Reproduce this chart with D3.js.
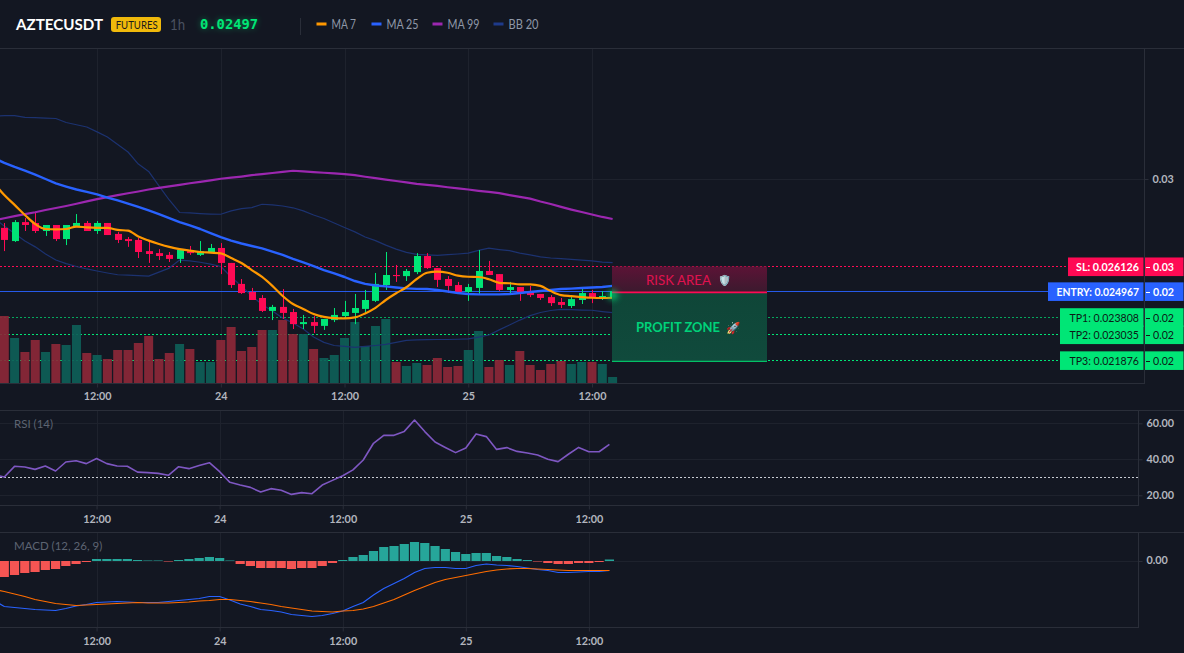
<!DOCTYPE html>
<html><head><meta charset="utf-8">
<style>
html,body{margin:0;padding:0;background:#131722;overflow:hidden}
svg{display:block}
text{font-family:"Lato","Noto Sans",sans-serif}
.axis path{display:none}
.axis line{stroke:#2a2e39}
.axis text{fill:#b2b5be;font-size:12px;font-weight:700;font-family:"Lato",sans-serif}
</style>
<script src="https://cdn.jsdelivr.net/npm/d3@7"></script>
</head><body><svg id="c" width="1184" height="653"></svg>
<script>
const symbol="AZTECUSDT", badge="FUTURES", interval="1h", lastPrice="0.02497";
const legendNames=["MA 7","MA 25","MA 99","BB 20"];
const legendColors=["#ff9800","#2962ff","#9c27b0","#1e3a8a"];
const tickBars=[9,21,33,45,57];
const tickLabels=["12:00","24","12:00","25","12:00"];
const levelNames=["SL","ENTRY","TP1","TP2","TP3"];
const levelPrices=[0.026126,0.024967,0.023808,0.023035,0.021876];

const opens=[.02781,.02722,.02807,.02803,.02767,.02794,.02731,.02785,.02803,.02767,
.02803,.02754,.02731,.02727,.02677,.02668,.02660,.02642,.02677,.02660,
.02673,.02691,.02624,.02530,.02494,.02467,.02409,.02427,.02404,.02350,
.02359,.02342,.02368,.02386,.02400,.02418,.02454,.02525,.02570,.02565,
.02583,.02655,.02601,.02552,.02525,.02494,.02512,.02588,.02574,.02503,
.02516,.02494,.02485,.02471,.02449,.02431,.02458,.02489,.02471,.02467];
const highs=[.02803,.02816,.02825,.02848,.02794,.02794,.02794,.02843,.02812,.02812,
.02803,.02763,.02740,.02736,.02727,.02686,.02673,.02682,.02700,.02722,
.02709,.02713,.02624,.02552,.02512,.02480,.02436,.02507,.02418,.02391,
.02386,.02373,.02422,.02454,.02485,.02503,.02579,.02673,.02615,.02597,
.02668,.02668,.02601,.02565,.02539,.02530,.02682,.02633,.02574,.02539,
.02516,.02521,.02485,.02480,.02467,.02480,.02507,.02503,.02498,.02498];
const lows=[.02677,.02718,.02767,.02758,.02745,.02722,.02704,.02785,.02767,.02754,
.02749,.02713,.02696,.02646,.02624,.02637,.02628,.02624,.02660,.02655,
.02668,.02574,.02512,.02485,.02458,.02404,.02368,.02373,.02328,.02328,
.02310,.02324,.02359,.02373,.02350,.02400,.02449,.02503,.02539,.02543,
.02574,.02597,.02516,.02489,.02494,.02454,.02485,.02570,.02498,.02485,
.02454,.02471,.02458,.02431,.02422,.02422,.02440,.02444,.02458,.02467];
const closes=[.02727,.02807,.02794,.02767,.02794,.02731,.02794,.02803,.02767,.02803,
.02749,.02727,.02722,.02673,.02664,.02655,.02642,.02682,.02668,.02677,
.02691,.02624,.02525,.02489,.02458,.02409,.02427,.02400,.02350,.02359,
.02342,.02373,.02391,.02404,.02422,.02458,.02530,.02570,.02565,.02588,
.02655,.02601,.02548,.02521,.02494,.02516,.02588,.02570,.02503,.02516,
.02494,.02480,.02467,.02444,.02436,.02462,.02489,.02471,.02476,.02497];
const volumes=[67,45,31,43,31,39,38,58,30,28,24,33,33,40,47,24,30,39,34,21,21,43,56,32,36,53,53,63,49,49,34,25,28,45,61,37,57,64,21,17,20,18,25,16,17,33,52,16,23,18,32,18,13,19,22,19,21,21,19,6];

// line series start one bar before the first candle (bar -1)
const ma7=[.02982,.02928,.02884,.02839,.02798,.02776,.02774,.02776,.02787,.02783,.02781,.02781,.02772,.02769,.02742,.02724,.02709,.02696,.02686,.02679,.02673,.02670,.02667,.02646,.02624,.02592,.02561,.02521,.02476,.02440,.02418,.02395,.02382,.02377,.02376,.02380,.02398,.02423,.02458,.02488,.02515,.02552,.02580,.02585,.02580,.02567,.02562,.02561,.02551,.02535,.02533,.02528,.02528,.02521,.02498,.02480,.02475,.02471,.02468,.02467,.02468];
const ma25=[.03094,.03072,.03054,.03038,.03020,.03000,.02980,.02966,.02953,.02942,.02931,.02917,.02904,.02890,.02875,.02859,.02843,.02825,.02807,.02792,.02776,.02758,.02740,.02724,.02711,.02700,.02689,.02675,.02660,.02642,.02626,.02610,.02592,.02577,.02561,.02543,.02530,.02523,.02519,.02514,.02510,.02508,.02507,.02503,.02496,.02489,.02485,.02483,.02483,.02483,.02485,.02489,.02494,.02498,.02503,.02507,.02509,.02512,.02514,.02516,.02521];
const ma99=[.02814,.02824,.02834,.02843,.02851,.02861,.02870,.02879,.02889,.02900,.02910,.02919,.02928,.02936,.02944,.02953,.02960,.02967,.02974,.02981,.02987,.02994,.03001,.03006,.03011,.03017,.03022,.03027,.03032,.03037,.03034,.03031,.03028,.03025,.03022,.03017,.03010,.03004,.02997,.02991,.02985,.02978,.02974,.02969,.02963,.02958,.02953,.02947,.02942,.02937,.02928,.02920,.02912,.02899,.02888,.02875,.02863,.02852,.02841,.02830,.02821];
const bbUpper=[.03282,.03284,.03284,.03276,.03275,.03273,.03271,.03253,.03243,.03233,.03211,.03188,.03155,.03121,.03067,.03034,.02969,.02906,.02850,.02848,.02845,.02843,.02842,.02857,.02867,.02872,.02887,.02884,.02879,.02871,.02857,.02839,.02823,.02803,.02783,.02763,.02740,.02724,.02704,.02686,.02671,.02662,.02660,.02658,.02661,.02664,.02668,.02680,.02690,.02684,.02679,.02668,.02660,.02651,.02646,.02643,.02640,.02637,.02633,.02628,.02625];
const bbLower=[.02825,.02789,.02756,.02722,.02696,.02664,.02637,.02621,.02608,.02597,.02588,.02579,.02571,.02569,.02567,.02565,.02583,.02601,.02637,.02633,.02627,.02619,.02608,.02561,.02521,.02476,.02438,.02409,.02377,.02355,.02328,.02292,.02268,.02254,.02250,.02246,.02250,.02254,.02259,.02268,.02277,.02279,.02280,.02281,.02281,.02282,.02284,.02292,.02301,.02324,.02346,.02368,.02388,.02402,.02411,.02416,.02415,.02413,.02412,.02406,.02401];
const rsi=[31.5,30.2,36.1,35.7,34.4,36.3,33.5,38.5,39.2,37.6,40.4,37.6,36.3,36.1,32.9,32.6,32.2,31.1,35.9,34.8,36.5,38.1,33.1,27.2,25.7,24.4,21.8,23.7,22.8,20.5,21.5,20.9,25.7,28.3,30.9,34.1,39.6,48.9,53.3,53.3,55.5,61.8,55.4,49.6,46.6,43.7,46.3,54.1,52.6,45.5,46.5,44.4,43.5,42.4,40.0,38.7,42.8,46.6,44.2,44.2,48.3];
const macdLine=[-.00079,-.00091,-.00093,-.00095,-.00097,-.00098,-.00099,-.00095,-.00090,-.00087,-.00083,-.00082,-.00081,-.00082,-.00083,-.00083,-.00083,-.00081,-.00079,-.00077,-.00075,-.00071,-.00071,-.00078,-.00086,-.00091,-.00097,-.00099,-.00102,-.00107,-.00109,-.00111,-.00109,-.00105,-.00100,-.00091,-.00083,-.00068,-.00055,-.00045,-.00035,-.00023,-.00015,-.00013,-.00013,-.00015,-.00015,-.00009,-.00006,-.00008,-.00009,-.00011,-.00014,-.00017,-.00019,-.00023,-.00023,-.00022,-.00021,-.00021,-.00019];
const signalLine=[-.00057,-.00061,-.00066,-.00071,-.00077,-.00081,-.00085,-.00087,-.00089,-.00088,-.00087,-.00086,-.00085,-.00084,-.00083,-.00084,-.00084,-.00084,-.00083,-.00082,-.00080,-.00079,-.00077,-.00077,-.00079,-.00081,-.00084,-.00087,-.00091,-.00094,-.00097,-.00100,-.00101,-.00102,-.00100,-.00099,-.00096,-.00091,-.00084,-.00077,-.00068,-.00059,-.00051,-.00043,-.00037,-.00033,-.00029,-.00025,-.00021,-.00018,-.00016,-.00015,-.00015,-.00016,-.00017,-.00018,-.00019,-.00019,-.00019,-.00019,-.00019];
const macdHist=[-.00032,-.00028,-.00024,-.00022,-.00018,-.00016,-.00010,-.00006,-.00002,.00004,.00004,.00004,.00004,.00002,.00001,.00001,-.00001,.00002,.00004,.00006,.00008,.00006,.00001,-.00006,-.00010,-.00014,-.00014,-.00014,-.00016,-.00014,-.00014,-.00010,-.00004,.00002,.00008,.00012,.00020,.00028,.00030,.00034,.00038,.00036,.00030,.00024,.00018,.00014,.00016,.00016,.00010,.00008,.00004,.00002,-.00001,-.00004,-.00006,-.00006,-.00004,-.00004,-.00002,.00003];

const GRID="#1e222d", BORDER="#2a2e39", UP="#00e676", DOWN="#ff0a54";
const svg=d3.select("#c");
const defs=svg.append("defs");
const grad=(id,c)=>{const g=defs.append("linearGradient").attr("id",id).attr("x1",0).attr("x2",0).attr("y1",0).attr("y2",1);
  c.forEach((s,i)=>g.append("stop").attr("offset",i/(c.length-1)).attr("stop-color",s));};
grad("risk",["#5c1336","#3b1a2e"]);
grad("profit",["#0f4638","#104a3c"]);
defs.append("filter").attr("id","glow").attr("x","-100%").attr("y","-100%").attr("width","300%").attr("height","300%")
  .append("feGaussianBlur").attr("stdDeviation",3);
defs.append("filter").attr("id","txtglow").attr("x","-20%").attr("y","-50%").attr("width","140%").attr("height","200%")
  .append("feGaussianBlur").attr("stdDeviation",3);
defs.append("clipPath").attr("id","mainClip").append("rect").attr("x",0).attr("y",49).attr("width",1144).attr("height",334);

// squeeze a text to the width it has in the reference font
const fit=(sel,w)=>sel.attr("textLength",w).attr("lengthAdjust","spacingAndGlyphs");
const squeeze=(sel,f)=>sel.each(function(){d3.select(this).attr("textLength",this.getComputedTextLength()*f).attr("lengthAdjust","spacingAndGlyphs");});

const domainX=[-0.417,110.54];
const xMain=d3.scaleLinear(domainX,[0,1144]);
const xPane=d3.scaleLinear(domainX,[0,1138]);
const yPrice=d3.scaleLinear([0.020861,0.035869],[383,48]);
const yVol=d3.scaleLinear([0,100],[383,283]);
const yRsi=d3.scaleLinear([60,20],[423.3,495.3]);
const yMacd=d3.scaleLinear([0,-0.001],[561,611]);

// the stop-loss row sits one pixel lower than the others in the reference
const levelShift=[1,0,0,0,0];
const levelY=i=>yPrice(levelPrices[i])+levelShift[i];

// frames
const hline=(y,x1,x2,c)=>svg.append("line").attr("x1",x1).attr("x2",x2).attr("y1",y).attr("y2",y).attr("stroke",c);
const vline=(x,y1,y2,c)=>svg.append("line").attr("x1",x).attr("x2",x).attr("y1",y1).attr("y2",y2).attr("stroke",c);
hline(48.5,0,1184,BORDER);
tickBars.forEach(b=>{
  vline(Math.round(xMain(b))+.5,49,383,GRID);
  vline(Math.round(xPane(b))+.5,411,505,GRID);
  vline(Math.round(xPane(b))+.5,533,627,GRID);
});
hline(Math.round(yPrice(0.03))+.5,0,1144,GRID);

// header
fit(svg.append("text").attr("x",16).attr("y",30).attr("fill","#fff").attr("font-size",16).attr("font-weight",700).text(symbol),87);
svg.append("rect").attr("x",111).attr("y",17).attr("width",50).attr("height",15).attr("rx",3).attr("fill","#f0b90b");
fit(svg.append("text").attr("x",115.7).attr("y",28.5).attr("fill","#1a1a1a").attr("font-size",10.5).attr("font-weight",400).text(badge),42);
fit(svg.append("text").attr("x",170).attr("y",29.5).attr("fill","#4a5160").attr("font-size",15).text(interval),15);
const lp=svg.append("g");
lp.append("text").attr("x",200).attr("y",29).attr("fill","#00e676").attr("opacity",.45).attr("filter","url(#txtglow)").attr("font-size",13.8).attr("font-weight",700).style("font-family","'DejaVu Sans Mono'").text(lastPrice);
lp.append("text").attr("x",200).attr("y",29).attr("fill","#00e676").attr("font-size",13.8).attr("font-weight",700).style("font-family","'DejaVu Sans Mono'").text(lastPrice);
vline(300.5,18,35,BORDER);
const legendX=[316.5,371.5,432.5,493.5];
const legendW=[24.5,32,32,30];
legendNames.forEach((n,i)=>{
  svg.append("rect").attr("x",legendX[i]).attr("y",22.5).attr("width",10).attr("height",3).attr("fill",legendColors[i]);
  fit(svg.append("text").attr("x",legendX[i]+15).attr("y",28.5).attr("fill","#8f98a8").attr("font-size",12.5).text(n),legendW[i]);
});

// level lines (under volume)
const levelEnd=[1068,1048,1060,1060,1060];
const levelColor=[DOWN,"#2962ff",UP,UP,UP];
const levelOpacity=[1,.9,.7,1,1];
levelNames.forEach((n,i)=>{
  const y=Math.round(levelY(i))+.5;
  const l=hline(y,0,levelEnd[i],levelColor[i]).attr("stroke-opacity",levelOpacity[i]);
  if(i!==1) l.attr("stroke-dasharray","2 2");
});

const main=svg.append("g").attr("clip-path","url(#mainClip)");
const bars=d3.range(opens.length);
// volume
main.selectAll(".vol").data(bars).join("rect").attr("class","vol")
  .attr("x",i=>xMain(i)-4.5).attr("width",9)
  .attr("y",i=>yVol(volumes[i])).attr("height",i=>383-yVol(volumes[i]))
  .attr("fill",i=>closes[i]>=opens[i]?"#0e5f58":"#8c2838").attr("opacity",.92);

// indicator lines
const lineMain=(arr,c,w,curve)=>main.append("path").datum(arr)
  .attr("d",d3.line().x((d,i)=>xMain(i-1)).y(d=>yPrice(d)).curve(curve||d3.curveLinear))
  .attr("fill","none").attr("stroke",c).attr("stroke-width",w).attr("stroke-linejoin","round");
lineMain(bbUpper,"#1c3270",1.2);
lineMain(bbLower,"#1c3270",1.2);

// candles
main.selectAll(".wick").data(bars).join("line").attr("class","wick")
  .attr("x1",i=>Math.round(xMain(i))+.5).attr("x2",i=>Math.round(xMain(i))+.5)
  .attr("y1",i=>yPrice(highs[i])).attr("y2",i=>yPrice(lows[i]))
  .attr("stroke",i=>closes[i]>=opens[i]?UP:DOWN);
main.selectAll(".body").data(bars).join("rect").attr("class","body")
  .attr("x",i=>Math.round(xMain(i))-3).attr("width",7)
  .attr("y",i=>yPrice(Math.max(opens[i],closes[i])))
  .attr("height",i=>Math.max(1,Math.abs(yPrice(opens[i])-yPrice(closes[i]))))
  .attr("fill",i=>closes[i]>=opens[i]?UP:DOWN);

lineMain(ma99,"#9c27b0",2.2);
lineMain(ma25,"#2962ff",2.4);
lineMain(ma7,"#ff9800",2.2,d3.curveMonotoneX);

// zones
const zx1=612, zx2=767;
const ySL=levelY(0), yE=yPrice(levelPrices[1]), yT3=yPrice(levelPrices[4]);
svg.append("rect").attr("x",zx1).attr("y",ySL).attr("width",zx2-zx1).attr("height",yE-ySL+1).attr("fill","url(#risk)");
svg.append("rect").attr("x",zx1).attr("y",yE+1).attr("width",zx2-zx1).attr("height",yT3-yE).attr("fill","url(#profit)");
svg.append("line").attr("x1",zx1).attr("x2",zx2).attr("y1",yE+1).attr("y2",yE+1).attr("stroke",DOWN).attr("stroke-width",1.6);
svg.append("line").attr("x1",zx1).attr("x2",zx2).attr("y1",yT3+1).attr("y2",yT3+1).attr("stroke",UP).attr("stroke-opacity",.8).attr("stroke-width",1.2);
fit(svg.append("text").attr("x",646).attr("y",284.5).attr("fill","#e0124f").attr("font-size",12.5).text("RISK AREA"),65);
svg.append("text").attr("x",718).attr("y",284).attr("font-size",10.5).text("🛡️");
fit(svg.append("text").attr("x",636).attr("y",332).attr("fill","#00d27a").attr("font-size",12.5).attr("font-weight",700).text("PROFIT ZONE"),84);
svg.append("text").attr("x",726).attr("y",332).attr("font-size",11.5).text("🚀");
svg.append("circle").attr("cx",xMain(59)).attr("cy",yPrice(closes[59])+4).attr("r",5).attr("fill",UP).attr("opacity",.75).attr("filter","url(#glow)");

// price axis frame
vline(1144.5,49,384,BORDER);
hline(383.5,0,1144,BORDER);

// level tags
const tagH=18.6;
const levelTextW=[63,82.5,69.5,69.5,69.5];
levelNames.forEach((n,i)=>{
  const cy=levelY(i)+.3;
  const tc=(i===0||i===1)?"#fff":"#0c1a16";
  svg.append("rect").attr("x",levelEnd[i]).attr("y",cy-tagH/2).attr("width",1143.5-levelEnd[i]).attr("height",tagH).attr("fill",levelColor[i]);
  fit(svg.append("text").attr("x",1139).attr("y",cy+4.2).attr("text-anchor","end").attr("fill",tc).attr("font-size",12).attr("font-weight",i<2?700:400).text(n+": "+levelPrices[i].toFixed(6)),levelTextW[i]);
  svg.append("rect").attr("x",1145).attr("y",cy-tagH/2).attr("width",38.5).attr("height",tagH).attr("fill",levelColor[i]);
  svg.append("line").attr("x1",1146).attr("x2",1150).attr("y1",Math.round(cy)+.5).attr("y2",Math.round(cy)+.5).attr("stroke",tc);
  fit(svg.append("text").attr("x",1153).attr("y",cy+4.2).attr("fill",tc).attr("font-size",12).attr("font-weight",i<2?700:400).text(d3.format(".2f")(levelPrices[i])),21);
});

// axes
const fmtTick=b=>tickLabels[tickBars.indexOf(b)];
const xAxis=(scale,y,pad)=>svg.append("g").attr("class","axis").attr("transform",`translate(0,${y})`)
  .call(d3.axisBottom(scale).tickValues(tickBars).tickFormat(fmtTick).tickSize(4).tickPadding(pad))
  .call(g=>squeeze(g.selectAll("text"),.9));
xAxis(xMain,383.5,4);
xAxis(xPane,505.5,5);
xAxis(xPane,627.5,5);
svg.append("g").attr("class","axis").attr("transform","translate(1144.5,0)")
  .call(d3.axisRight(yPrice).tickValues([0.03]).tickFormat(d3.format(".2f")).tickSize(4).tickPadding(4))
  .call(g=>squeeze(g.selectAll("text"),.9));

// RSI pane
hline(410.5,0,1184,BORDER); hline(505.5,0,1138,BORDER); vline(1138.5,410,506,BORDER);
[60,40,20].forEach(v=>hline(Math.round(yRsi(v))+.5,0,1138,GRID));
hline(Math.round(yRsi(30))+.5,0,1138,"#c8ccd4").attr("stroke-dasharray","2 2");
svg.append("path").datum(rsi).attr("d",d3.line().x((d,i)=>xPane(i-1)).y(d=>yRsi(d)))
  .attr("fill","none").attr("stroke","#7e57c2").attr("stroke-width",1.6).attr("stroke-linejoin","round");
svg.append("text").attr("x",14).attr("y",428).attr("fill","#5d6472").attr("font-size",11.5).text("RSI (14)");
svg.append("g").attr("class","axis").attr("transform","translate(1138.5,0)")
  .call(d3.axisRight(yRsi).tickValues([60,40,20]).tickFormat(d3.format(".2f")).tickSize(4).tickPadding(4))
  .call(g=>{squeeze(g.selectAll("text"),.9);g.selectAll("text").attr("y",-1);});

// MACD pane
hline(532.5,0,1184,BORDER); hline(627.5,0,1138,BORDER); vline(1138.5,532,628,BORDER);
hline(561.5,0,1138,GRID);
svg.selectAll(".hist").data(bars).join("rect").attr("class","hist")
  .attr("x",i=>xPane(i)-4.6).attr("width",9.2)
  .attr("y",i=>Math.min(yMacd(macdHist[i]),561)).attr("height",i=>Math.abs(yMacd(macdHist[i])-561))
  .attr("fill",i=>macdHist[i]>=0?"#26a69a":"#f55553");
const macdPath=d3.line().x((d,i)=>xPane(i-1)).y(d=>yMacd(d));
defs.append("clipPath").attr("id","paneClip").append("rect").attr("x",0).attr("y",533).attr("width",1138).attr("height",94);
svg.append("path").datum(macdLine).attr("clip-path","url(#paneClip)").attr("d",macdPath).attr("fill","none").attr("stroke","#2962ff").attr("stroke-width",1.2);
svg.append("path").datum(signalLine).attr("clip-path","url(#paneClip)").attr("d",macdPath).attr("fill","none").attr("stroke","#ff6d00").attr("stroke-width",1.2);
svg.append("text").attr("x",14).attr("y",550).attr("fill","#5d6472").attr("font-size",11.5).text("MACD (12, 26, 9)");
svg.append("g").attr("class","axis").attr("transform","translate(1138.5,0)")
  .call(d3.axisRight(yMacd).tickValues([0]).tickFormat(d3.format(".2f")).tickSize(4).tickPadding(4))
  .call(g=>{squeeze(g.selectAll("text"),.9);g.selectAll("text").attr("y",-1);});
</script></body></html>
